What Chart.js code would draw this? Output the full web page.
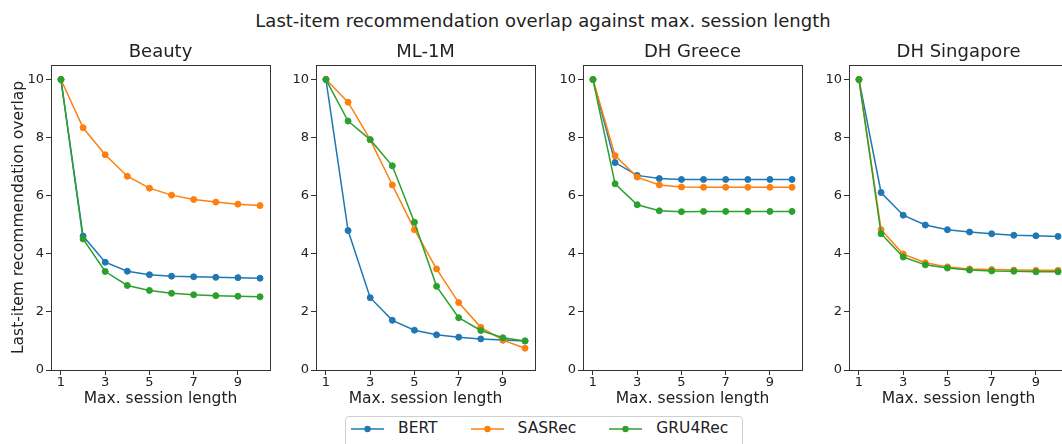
<!DOCTYPE html>
<html>
<head>
<meta charset="utf-8">
<title>Last-item recommendation overlap</title>
<script src="https://cdn.jsdelivr.net/npm/chart.js@4.4.1/dist/chart.umd.min.js"></script>
<style>
    html, body { margin: 0; padding: 0; background: #fff; }
    body {
        position: relative;
        width: 1062px;
        height: 444px;
        overflow: hidden;
        font-family: "DejaVu Sans", sans-serif;
        color: #222;
    }
    .panel { position: absolute; top: 40px; }
    #suptitle {
        position: absolute;
        left: 243px;
        width: 600px;
        top: 12px;
        font-size: 18px;
        line-height: 18px;
        text-align: center;
        white-space: nowrap;
    }
    #legend {
        position: absolute;
        left: 345px;
        top: 416px;
        width: 398px;
        height: 40px;
        box-sizing: border-box;
        border: 1px solid #cfcfcf;
        border-radius: 4px;
        padding-left: 5px;
        display: flex;
        align-items: flex-start;
        font-size: 15.5px;
        line-height: 23px;
        background: rgba(255, 255, 255, 0.8);
    }
    #legend .item { display: flex; align-items: center; height: 23px; margin-right: 33px; }
    #legend .item:last-child { margin-right: 0; }
    #legend svg { margin-right: 14px; }
</style>
</head>
<body>
<div id="suptitle">Last-item recommendation overlap against max. session length</div>
<canvas id="chart-beauty" class="panel"></canvas>
<canvas id="chart-ml1m" class="panel"></canvas>
<canvas id="chart-greece" class="panel"></canvas>
<canvas id="chart-singapore" class="panel"></canvas>
<div id="legend"></div>

<script>
const sessionLengths = [1, 2, 3, 4, 5, 6, 7, 8, 9, 10];
const xTicks = [1, 3, 5, 7, 9];
const yTicks = [0, 2, 4, 6, 8, 10];

const seriesNames = ["BERT", "SASRec", "GRU4Rec"];
const seriesColors = ["#1f77b4", "#ff7f0e", "#2ca02c"];

// overlap per max. session length, one array per dataset / model
const beautyBert = [10, 4.61, 3.71, 3.40, 3.28, 3.23, 3.21, 3.19, 3.18, 3.16];
const beautySasrec = [10, 8.34, 7.41, 6.67, 6.26, 6.02, 5.87, 5.78, 5.71, 5.66];
const beautyGru = [10, 4.51, 3.39, 2.91, 2.74, 2.64, 2.59, 2.56, 2.54, 2.52];

const ml1mBert = [10, 4.80, 2.49, 1.71, 1.37, 1.21, 1.13, 1.07, 1.03, 1.00];
const ml1mSasrec = [10, 9.22, 7.93, 6.37, 4.83, 3.48, 2.32, 1.47, 1.03, 0.75];
const ml1mGru = [10, 8.57, 7.93, 7.03, 5.09, 2.88, 1.80, 1.36, 1.11, 1.00];

const greeceBert = [10, 7.14, 6.70, 6.59, 6.56, 6.56, 6.56, 6.56, 6.56, 6.56];
const greeceSasrec = [10, 7.38, 6.64, 6.37, 6.30, 6.29, 6.29, 6.29, 6.29, 6.29];
const greeceGru = [10, 6.41, 5.69, 5.48, 5.45, 5.46, 5.46, 5.46, 5.46, 5.46];

const singaporeBert = [10, 6.11, 5.33, 4.99, 4.83, 4.75, 4.69, 4.64, 4.62, 4.60];
const singaporeSasrec = [10, 4.83, 3.99, 3.69, 3.55, 3.48, 3.46, 3.44, 3.43, 3.43];
const singaporeGru = [10, 4.69, 3.89, 3.62, 3.51, 3.44, 3.41, 3.40, 3.38, 3.38];

const PLOT_W = 222;
const X_AXIS_H = 42;
const CANVAS_H = 372;

Chart.defaults.font.family = "'DejaVu Sans', sans-serif";
Chart.defaults.color = "#222";

// matplotlib-style box around the plot area
const frame = {
    id: "frame",
    afterDatasetsDraw(chart) {
        const { ctx, chartArea: a } = chart;
        ctx.save();
        ctx.strokeStyle = "#333";
        ctx.lineWidth = 1;
        ctx.strokeRect(Math.round(a.left) + 0.5, Math.round(a.top) + 0.5,
            Math.round(a.right - a.left), Math.round(a.bottom - a.top));
        ctx.restore();
    },
};

const makePanel = (canvasId, title, values, frameLeft, showYTitle) => {
    const yWidth = showYTitle ? 51 : 40;
    const canvas = document.getElementById(canvasId);
    canvas.width = yWidth + PLOT_W + 2;
    canvas.height = CANVAS_H;
    canvas.style.left = (frameLeft - yWidth) + "px";

    return new Chart(canvas, {
        type: "line",
        data: {
            datasets: seriesNames.map((name, i) => ({
                label: name,
                data: sessionLengths.map((x, j) => ({ x: x, y: values[i][j] })),
                borderColor: seriesColors[i],
                backgroundColor: seriesColors[i],
                borderWidth: 1.5,
                pointRadius: 3,
                pointBorderWidth: 1,
                tension: 0,
                order: seriesNames.length - i,
            })),
        },
        options: {
            responsive: false,
            animation: false,
            events: [],
            layout: { padding: { left: 0, right: 2, top: 0, bottom: 0 } },
            plugins: {
                legend: { display: false },
                tooltip: { enabled: false },
                title: {
                    display: true,
                    text: title,
                    color: "#222",
                    fullSize: false, // centre over the plot, not the canvas
                    font: { size: 18, weight: "normal" },
                    padding: { top: 2, bottom: 1.4 },
                },
            },
            scales: {
                x: {
                    type: "linear",
                    min: 0.55,
                    max: 10.45,
                    afterBuildTicks: (scale) => {
                        scale.ticks = xTicks.map((v) => ({ value: v }));
                    },
                    afterFit: (scale) => {
                        scale.height = X_AXIS_H;
                    },
                    grid: { drawOnChartArea: false, tickLength: 5, color: "#333" },
                    border: { display: false },
                    ticks: { font: { size: 13 }, color: "#222", padding: 0, maxRotation: 0 },
                    title: {
                        display: true,
                        text: "Max. session length",
                        color: "#222",
                        font: { size: 15.5 },
                        padding: { top: 0, bottom: 3.7 },
                    },
                },
                y: {
                    min: 0,
                    max: 10.5,
                    afterBuildTicks: (scale) => {
                        scale.ticks = yTicks.map((v) => ({ value: v }));
                    },
                    afterFit: (scale) => {
                        scale.width = yWidth;
                    },
                    grid: { drawOnChartArea: false, tickLength: 5, color: "#333" },
                    border: { display: false },
                    ticks: { font: { size: 13 }, color: "#222", padding: 2 },
                    title: {
                        display: showYTitle,
                        text: "Last-item recommendation overlap",
                        color: "#222",
                        font: { size: 15.5 },
                        padding: { top: 9.3, bottom: 0 },
                    },
                },
            },
        },
        plugins: [frame],
    });
};

makePanel("chart-beauty", "Beauty", [beautyBert, beautySasrec, beautyGru], 51, true);
makePanel("chart-ml1m", "ML-1M", [ml1mBert, ml1mSasrec, ml1mGru], 316, false);
makePanel("chart-greece", "DH Greece", [greeceBert, greeceSasrec, greeceGru], 583, false);
makePanel("chart-singapore", "DH Singapore", [singaporeBert, singaporeSasrec, singaporeGru], 849, false);

// shared legend under the panels
const legend = document.getElementById("legend");
seriesNames.forEach((name, i) => {
    const c = seriesColors[i];
    const item = document.createElement("span");
    item.className = "item";
    item.innerHTML =
        `<svg width="33" height="10"><line x1="0" y1="5" x2="33" y2="5" stroke="${c}" stroke-width="1.5"/>` +
        `<circle cx="16.5" cy="5" r="3.2" fill="${c}"/></svg><span>${name}</span>`;
    legend.appendChild(item);
});
</script>
</body>
</html>
